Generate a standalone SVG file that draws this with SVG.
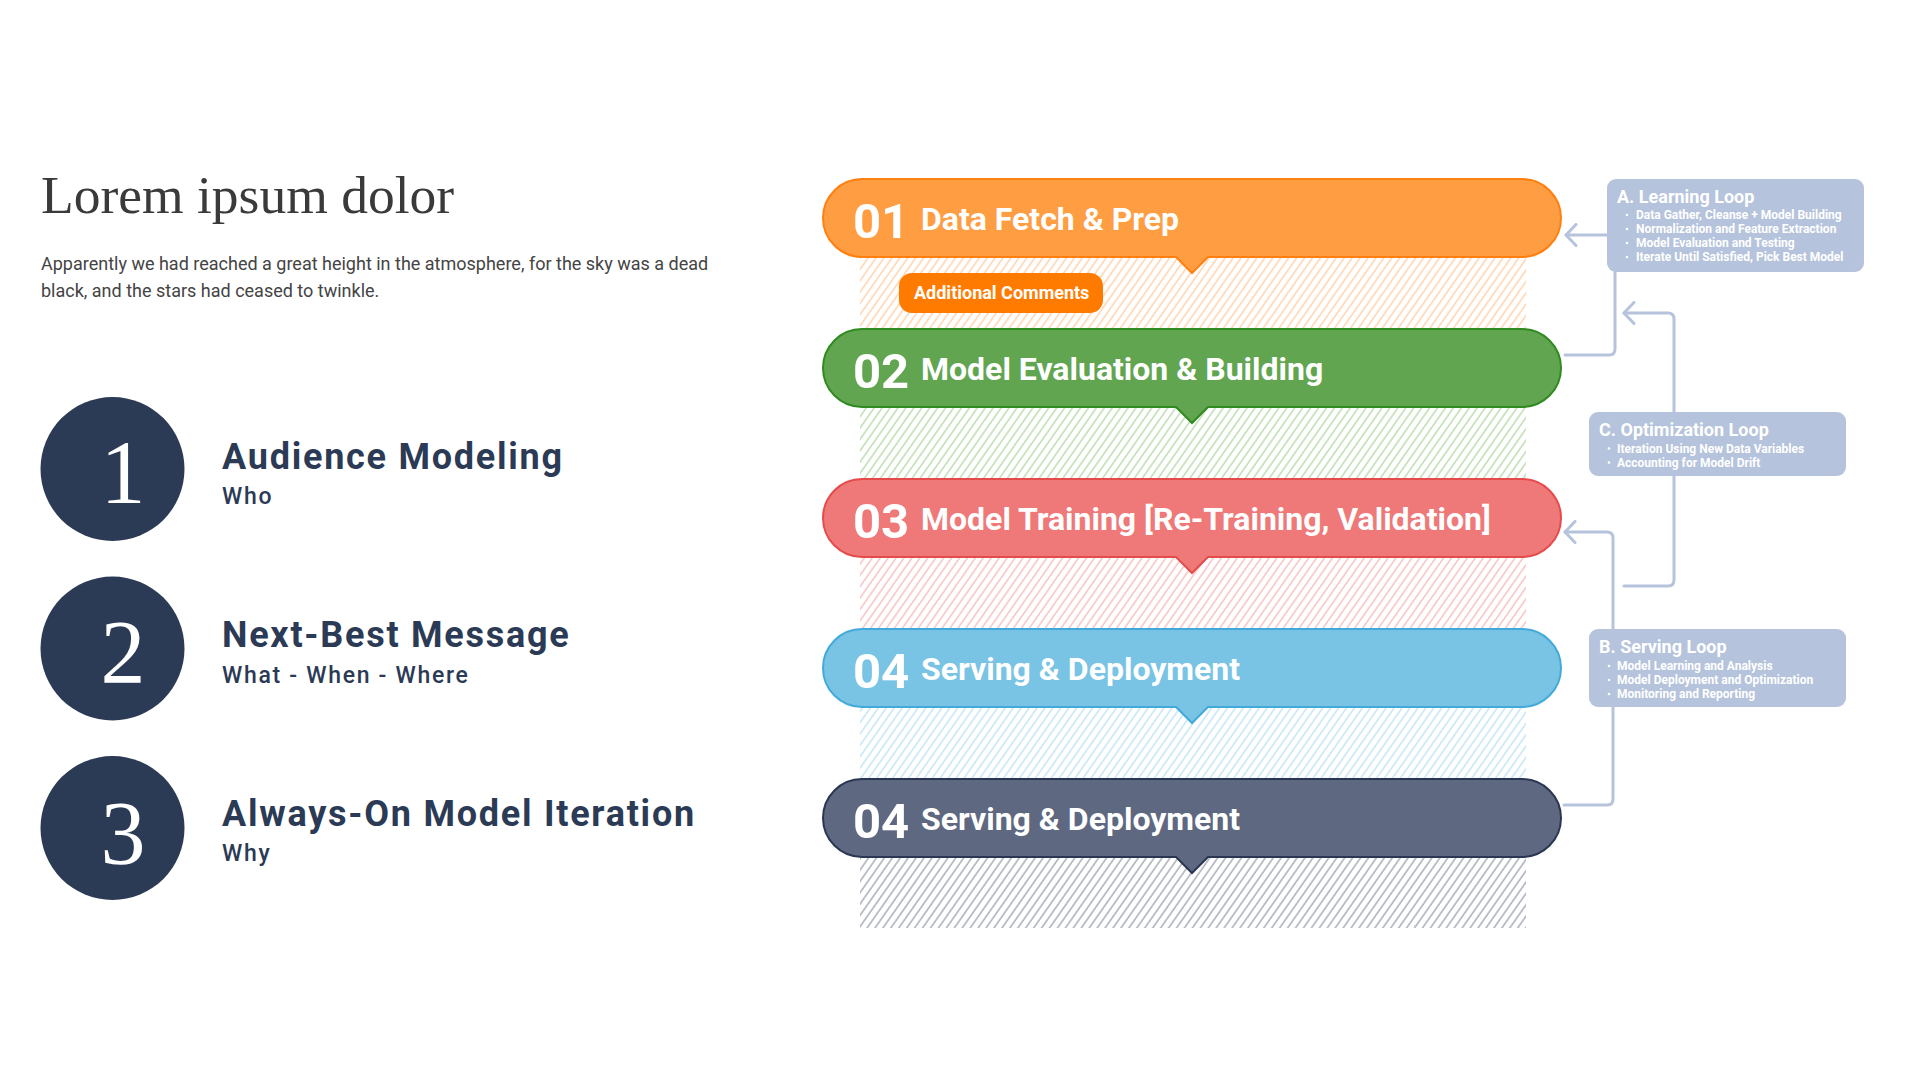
<svg xmlns="http://www.w3.org/2000/svg" xmlns:xlink="http://www.w3.org/1999/xlink" width="1920" height="1080" viewBox="0 0 1920 1080">
  <style>
    .title { font-family: "Liberation Serif", "DejaVu Serif", serif; font-size: 53.5px; fill: #3a3a3a; }
    .para { font-family: Roboto, "Liberation Sans", sans-serif; font-size: 18px; fill: #444444; }
    .disc { fill: #2b3a55; }
    .digit { font-family: "Liberation Serif", serif; font-size: 90px; fill: #ffffff; text-anchor: middle; }
    .head { font-family: Roboto, "Liberation Sans", sans-serif; font-weight: 700; font-size: 36px; fill: #2b3a55; letter-spacing: 1.75px; }
    .sub { font-family: Roboto, "Liberation Sans", sans-serif; font-weight: 500; font-size: 23px; fill: #2b3a55; letter-spacing: 1.7px; }
    .num { font-family: Roboto, "Liberation Sans", sans-serif; font-weight: 700; font-size: 49px; fill: #ffffff; }
    .step { font-family: Roboto, "Liberation Sans", sans-serif; font-weight: 700; font-size: 32px; fill: #ffffff; }
    .note { font-family: Roboto, "Liberation Sans", sans-serif; font-weight: 700; font-size: 18px; fill: #ffffff; }
    .loop { fill: #b6c3dc; }
    .loop-title { font-family: Roboto, "Liberation Sans", sans-serif; font-weight: 700; font-size: 18px; fill: #ffffff; }
    .loop-item { font-family: Roboto, "Liberation Sans", sans-serif; font-weight: 700; font-size: 12px; fill: #ffffff; }
    .dot { fill: #ffffff; }
    .conn { fill: none; stroke: #b6c3dc; stroke-width: 3; stroke-linecap: round; stroke-linejoin: round; }
    .orange { fill: #ff9d42; stroke: #ff7f0f; stroke-width: 2; }
    .green { fill: #62a551; stroke: #2f8a1f; stroke-width: 2; }
    .red { fill: #ef7878; stroke: #e54b4b; stroke-width: 2; }
    .blue { fill: #79c3e4; stroke: #42aadb; stroke-width: 2; }
    .navy { fill: #5e6880; stroke: #2b3652; stroke-width: 2; }
  </style>
  <defs>
    <!-- rounded banner with a small downward pointer, drawn at y = 0 -->
    <path id="banner" d="M862,0 H1522 A39,39 0 0 1 1522,78 H1208 L1192,94 L1176,78 H862 A39,39 0 0 1 862,0 Z"/>
    <pattern id="hatch-orange" width="6.5" height="7" patternUnits="userSpaceOnUse" patternTransform="rotate(35)">
      <line x1="1" y1="0" x2="1" y2="7" stroke="#ffbd85" stroke-width="1"/>
    </pattern>
    <pattern id="hatch-green" width="6.5" height="7" patternUnits="userSpaceOnUse" patternTransform="rotate(35)">
      <line x1="1" y1="0" x2="1" y2="7" stroke="#9ccb8c" stroke-width="1"/>
    </pattern>
    <pattern id="hatch-red" width="6.5" height="7" patternUnits="userSpaceOnUse" patternTransform="rotate(35)">
      <line x1="1" y1="0" x2="1" y2="7" stroke="#f4a3a3" stroke-width="1"/>
    </pattern>
    <pattern id="hatch-blue" width="6.5" height="7" patternUnits="userSpaceOnUse" patternTransform="rotate(35)">
      <line x1="1" y1="0" x2="1" y2="7" stroke="#a6d9ef" stroke-width="1"/>
    </pattern>
    <pattern id="hatch-navy" width="6.5" height="7" patternUnits="userSpaceOnUse" patternTransform="rotate(35)">
      <line x1="1" y1="0" x2="1" y2="7" stroke="#7c8498" stroke-width="1"/>
    </pattern>
    <marker id="chevron" viewBox="-12 -12 14 24" markerUnits="userSpaceOnUse" markerWidth="14" markerHeight="24" refX="0" refY="0" orient="auto">
      <path d="M-10,-10.5 L0,0 L-10,10.5" fill="none" stroke="#b6c3dc" stroke-width="3" stroke-linecap="round" stroke-linejoin="round"/>
    </marker>
  </defs>

  <rect width="1920" height="1080" fill="#ffffff"/>

  <!-- heading and intro text -->
  <g id="intro">
    <text class="title" x="41" y="213">Lorem ipsum dolor</text>
    <text class="para" x="41" y="270">Apparently we had reached a great height in the atmosphere, for the sky was a dead</text>
    <text class="para" x="41" y="297">black, and the stars had ceased to twinkle.</text>
  </g>

  <!-- numbered topics -->
  <g id="topic-1">
    <circle class="disc" cx="112.5" cy="469" r="72"/>
    <text class="digit" x="123" y="503">1</text>
    <text class="head" x="222" y="469">Audience Modeling</text>
    <text class="sub" x="222" y="504">Who</text>
  </g>
  <g id="topic-2">
    <circle class="disc" cx="112.5" cy="648.5" r="72"/>
    <text class="digit" x="123" y="683">2</text>
    <text class="head" x="222" y="647">Next-Best Message</text>
    <text class="sub" x="222" y="683">What - When - Where</text>
  </g>
  <g id="topic-3">
    <circle class="disc" cx="112.5" cy="828" r="72"/>
    <text class="digit" x="123" y="864">3</text>
    <text class="head" x="222" y="826">Always-On Model Iteration</text>
    <text class="sub" x="222" y="861">Why</text>
  </g>

  <!-- loop connectors -->
  <g id="connectors">
    <path class="conn" d="M1607,235 H1566" marker-end="url(#chevron)"/>
    <path class="conn" d="M1615,272 V349 Q1615,355 1609,355 H1565"/>
    <path class="conn" d="M1674,412 V319 Q1674,313 1668,313 H1624" marker-end="url(#chevron)"/>
    <path class="conn" d="M1674,476 V580 Q1674,586 1668,586 H1624"/>
    <path class="conn" d="M1564,805 H1607 Q1613,805 1613,799 V538 Q1613,532 1607,532 H1565" marker-end="url(#chevron)"/>
  </g>

  <!-- pipeline steps -->
  <g id="step-01">
    <rect x="860" y="218" width="666" height="111" fill="url(#hatch-orange)"/>
    <use href="#banner" xlink:href="#banner" class="orange" transform="translate(0,179)"/>
    <text class="num" x="853" y="237.5">01</text>
    <text class="step" x="921" y="230">Data Fetch &amp; Prep</text>
  </g>
  <g id="comment-tag">
    <rect x="899" y="273" width="204" height="40" rx="13" fill="#ff7b00"/>
    <text class="note" x="914" y="299">Additional Comments</text>
  </g>
  <g id="step-02">
    <rect x="860" y="368" width="666" height="111" fill="url(#hatch-green)"/>
    <use href="#banner" xlink:href="#banner" class="green" transform="translate(0,329)"/>
    <text class="num" x="853" y="387.5">02</text>
    <text class="step" x="921" y="380">Model Evaluation &amp; Building</text>
  </g>
  <g id="step-03">
    <rect x="860" y="518" width="666" height="111" fill="url(#hatch-red)"/>
    <use href="#banner" xlink:href="#banner" class="red" transform="translate(0,479)"/>
    <text class="num" x="853" y="537.5">03</text>
    <text class="step" x="921" y="530">Model Training [Re-Training, Validation]</text>
  </g>
  <g id="step-04">
    <rect x="860" y="668" width="666" height="111" fill="url(#hatch-blue)"/>
    <use href="#banner" xlink:href="#banner" class="blue" transform="translate(0,629)"/>
    <text class="num" x="853" y="687.5">04</text>
    <text class="step" x="921" y="680">Serving &amp; Deployment</text>
  </g>
  <g id="step-05">
    <rect x="860" y="818" width="666" height="110" fill="url(#hatch-navy)"/>
    <use href="#banner" xlink:href="#banner" class="navy" transform="translate(0,779)"/>
    <text class="num" x="853" y="837.5">04</text>
    <text class="step" x="921" y="830">Serving &amp; Deployment</text>
  </g>

  <!-- loop descriptions -->
  <g id="loop-a">
    <rect class="loop" x="1607" y="179" width="257" height="93" rx="9"/>
    <text class="loop-title" x="1617" y="203">A. Learning Loop</text>
    <circle class="dot" cx="1627" cy="215" r="1.3"/>
    <circle class="dot" cx="1627" cy="229" r="1.3"/>
    <circle class="dot" cx="1627" cy="243" r="1.3"/>
    <circle class="dot" cx="1627" cy="257" r="1.3"/>
    <text class="loop-item" x="1636" y="219">Data Gather, Cleanse + Model Building</text>
    <text class="loop-item" x="1636" y="233">Normalization and Feature Extraction</text>
    <text class="loop-item" x="1636" y="247">Model Evaluation and Testing</text>
    <text class="loop-item" x="1636" y="261">Iterate Until Satisfied, Pick Best Model</text>
  </g>
  <g id="loop-c">
    <rect class="loop" x="1589" y="412" width="257" height="64" rx="9"/>
    <text class="loop-title" x="1599" y="435.5">C. Optimization Loop</text>
    <circle class="dot" cx="1609" cy="448.5" r="1.3"/>
    <circle class="dot" cx="1609" cy="462.5" r="1.3"/>
    <text class="loop-item" x="1617" y="452.5">Iteration Using New Data Variables</text>
    <text class="loop-item" x="1617" y="466.5">Accounting for Model Drift</text>
  </g>
  <g id="loop-b">
    <rect class="loop" x="1589" y="629" width="257" height="78" rx="9"/>
    <text class="loop-title" x="1599" y="652.5">B. Serving Loop</text>
    <circle class="dot" cx="1609" cy="666" r="1.3"/>
    <circle class="dot" cx="1609" cy="680" r="1.3"/>
    <circle class="dot" cx="1609" cy="694" r="1.3"/>
    <text class="loop-item" x="1617" y="670">Model Learning and Analysis</text>
    <text class="loop-item" x="1617" y="684">Model Deployment and Optimization</text>
    <text class="loop-item" x="1617" y="698">Monitoring and Reporting</text>
  </g>
</svg>
